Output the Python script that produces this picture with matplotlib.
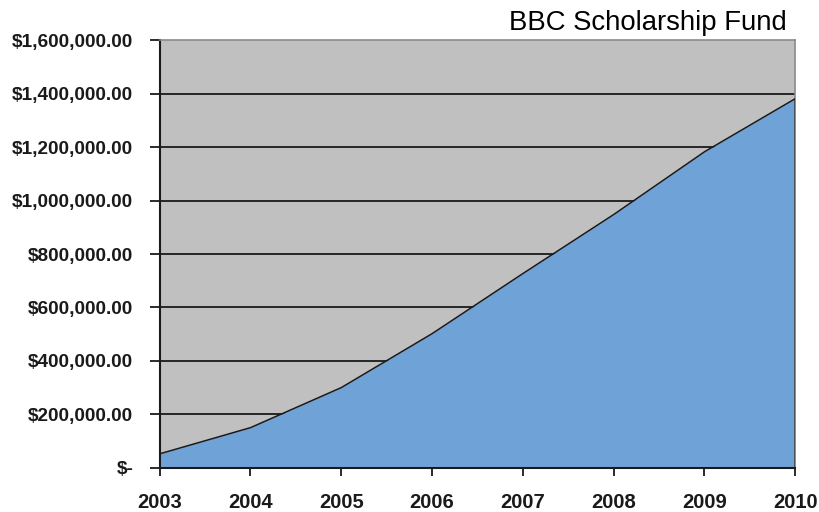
import matplotlib
matplotlib.use('Agg')
import matplotlib.pyplot as plt
from matplotlib.ticker import FuncFormatter

# Данные фонда по годам
years = [2003, 2004, 2005, 2006, 2007, 2008, 2009, 2010]
fund = [52000, 150000, 300000, 502000, 727000, 948000, 1183000, 1382000]
y_ticks = [0, 200000, 400000, 600000, 800000, 1000000, 1200000, 1400000, 1600000]
title = "BBC Scholarship Fund"

plt.rcParams['font.family'] = ['Liberation Sans', 'DejaVu Sans']

fig = plt.figure(figsize=(8.19, 5.12), dpi=100)
ax = fig.add_axes([0.195, 0.0865, 0.776, 0.8345])
ax.set_facecolor('#C0C0C0')

# Сетка под заливкой
for v in y_ticks[1:-1]:
    ax.axhline(v, color='#1a1a1a', lw=1.3, zorder=1)

ax.fill_between(years, fund, 0, color='#6FA3D8', lw=0, zorder=2)
ax.plot([years[0]] + years + [years[-1]], [0] + fund + [0],
        color='#1a1a1a', lw=1.1, zorder=3)

ax.set_xlim(years[0], years[-1])
ax.set_ylim(0, y_ticks[-1])
ax.set_xticks(years)
ax.set_yticks(y_ticks)


def money(v, pos):
    if v == 0:
        return '$-'
    return '${:,.2f}'.format(v)


ax.yaxis.set_major_formatter(FuncFormatter(money))

for s in ['top', 'right']:
    ax.spines[s].set_color('#8a8a8a')
    ax.spines[s].set_linewidth(1.2)
for s in ['left', 'bottom']:
    ax.spines[s].set_color('#1a1a1a')
    ax.spines[s].set_linewidth(1.5)

ax.tick_params(axis='y', direction='out', length=7, width=1.3, pad=12,
               labelsize=13.7, colors='#1a1a1a')
ax.tick_params(axis='x', direction='out', length=6, width=1.3, pad=12,
               labelsize=14.5, colors='#1a1a1a')
for lab in ax.get_xticklabels() + ax.get_yticklabels():
    lab.set_fontweight('bold')

fig.text(0.961, 0.941, title, ha='right', va='baseline', fontsize=19.8,
         color='black')

fig.savefig('out.png', dpi=100)
